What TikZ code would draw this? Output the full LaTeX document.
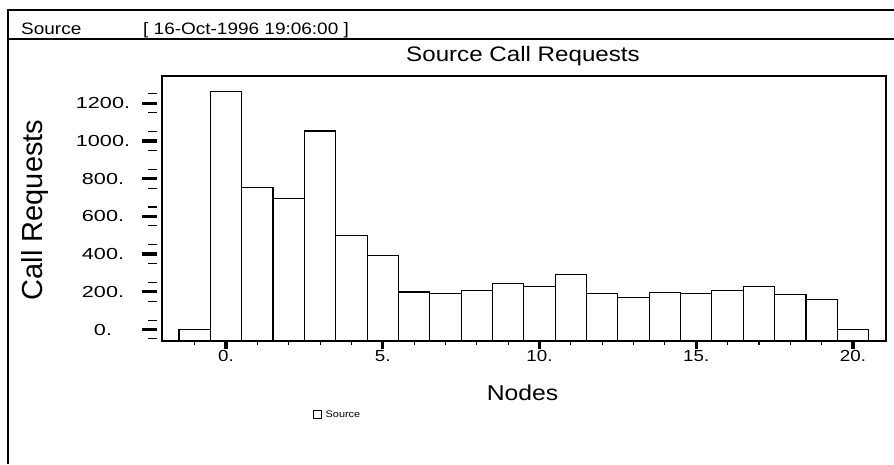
\documentclass[tikz,border=0pt]{standalone}
\usepackage{fontspec}
\usepackage{tikz}
\usetikzlibrary{positioning}
\setmainfont{Liberation Sans}
\newfontfamily\widefont{Liberation Sans}[FakeStretch=1.15]
\newfontfamily\xtickfont{Liberation Sans}[FakeStretch=1.17]
\newfontfamily\ytickfont{Liberation Sans}[FakeStretch=1.35]

\begin{document}
\begin{tikzpicture}[x=1pt, y=-1pt,
            frame/.style={line width=1.3pt},
            plotbox/.style={line width=1.7pt},
            bar/.style={draw, line width=1.1pt, fill=white},
            majortick/.style={line width=3.3pt},
            minortick/.style={line width=1.1pt},
            yticklabel/.style={font=\ytickfont\fontsize{16}{16}\selectfont, inner sep=0pt},
            xticklabel/.style={font=\xtickfont\fontsize{16}{16}\selectfont, inner sep=0pt}
        ]
            \useasboundingbox (0,0) rectangle (894,464);

            % window frame and header bar
            \draw[frame] (894,10) -- (8,10) -- (8,464);
            \draw[frame] (8,39) -- (894,39);
            \node (hdrname) [anchor=base west, inner sep=0pt, font=\widefont\fontsize{16.5}{16.5}\selectfont] at (21,34) {Source};
            \node (hdrdate) [anchor=base west, inner sep=0pt, font=\widefont\fontsize{16.5}{16.5}\selectfont] at (143,34) {[ 16-Oct-1996 19:06:00 ]};

            \node (title) [anchor=base, inner sep=0pt, font=\widefont\fontsize{21}{21}\selectfont] at (523,61) {Source Call Requests};

            % bars, y in call requests
            \begin{scope}[shift={(0,329.5)}, y=0.1885pt]
                \foreach \i/\v in {-1/0, 0/1261, 1/755, 2/697, 3/1053, 4/501, 5/393, 6/199, 7/189, 8/206, 9/242, 10/229,
                                   11/292, 12/189, 13/171, 14/194, 15/192, 16/206, 17/229, 18/185, 19/159, 20/0}
                    \draw[bar] ({226+31.35*(\i-0.5)},-61) rectangle ({226+31.35*(\i+0.5)},\v);

                \draw[plotbox] (162,-61) rectangle (886,1345);

                % y axis ticks
                \foreach \v in {-50,50,...,1300}
                    \draw[minortick] (148,\v) -- (157,\v);
                \foreach \v in {0,200,...,1200} {
                    \draw[majortick] (142,\v) -- (157,\v);
                    \node (y\v) [yticklabel] at (103,\v) {\v.};
                }

                % x axis ticks
                \foreach \i in {-1,...,20}
                    \draw[minortick] ({226+31.35*\i},-61) -- ++(0,-4pt);
                \foreach \i in {0,5,...,20} {
                    \draw[majortick] ({226+31.35*\i},-61) -- ++(0,-8pt);
                    \node (x\i) [xticklabel, anchor=base] at ({226+31.35*\i},-171) {\i.};
                }
            \end{scope}

            \node (ylabel) [anchor=base, rotate=90, inner sep=0pt, font=\fontsize{29}{29}\selectfont] at (42,210) {Call Requests};
            \node (xlabel) [anchor=base, inner sep=0pt, font=\widefont\fontsize{21.5}{21.5}\selectfont] at (522.5,400) {Nodes};

            % legend
            \node (legbox) [draw, line width=0.9pt, minimum size=8pt, inner sep=0pt] at (317,414.5) {};
            \node (legtext) [right=4pt of legbox, inner sep=0pt, font=\widefont\fontsize{9.5}{9.5}\selectfont] {Source};
        \end{tikzpicture}
\end{document}
